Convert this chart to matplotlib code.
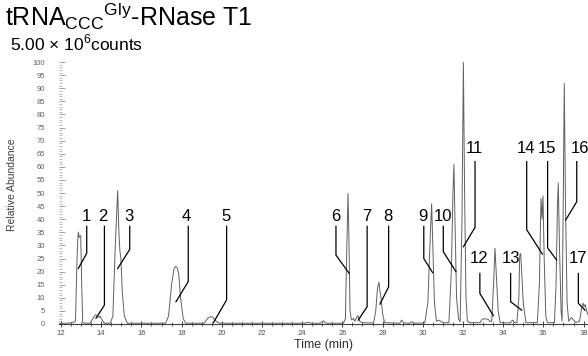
import matplotlib
matplotlib.use("Agg")
import matplotlib.pyplot as plt
from matplotlib.ticker import MultipleLocator

plt.rcParams['font.family'] = ['Liberation Sans', 'DejaVu Sans']
plt.rcParams['mathtext.fontset'] = 'custom'
plt.rcParams['mathtext.rm'] = 'Liberation Sans'

# Chromatogram trace (time in min, relative abundance)
time_min = [11.9, 12.3, 12.6, 12.72, 12.78, 12.82, 12.86, 12.91, 12.95, 12.98, 13.03, 13.08, 13.2,
            13.45, 13.62, 13.72, 13.8, 13.88, 13.95, 14.05, 14.15,
            14.45, 14.58, 14.7, 14.82, 14.88, 14.93, 14.98, 15.05, 15.15, 15.3,
            17.2, 17.35, 17.5, 17.62, 17.7, 17.78, 17.86, 17.95, 18.08, 18.2,
            19.12, 19.3, 19.45, 19.55, 19.65, 19.8, 19.95,
            24.15, 24.3, 24.45, 24.9, 25.05, 25.2,
            26.05, 26.15, 26.22, 26.28, 26.33, 26.38, 26.45, 26.55, 26.62, 26.7, 26.78, 26.86, 27.0,
            27.55, 27.66, 27.75, 27.82, 27.86, 27.92, 28.0, 28.1,
            28.85, 28.95, 29.05, 29.35, 29.45, 29.55,
            30.1, 30.25, 30.38, 30.44, 30.5, 30.58, 30.68, 30.8, 30.9, 31.0,
            31.3, 31.42, 31.5, 31.55, 31.6, 31.68, 31.78, 31.86,
            31.95, 32.02, 32.08, 32.15, 32.22, 32.35,
            32.85, 32.95, 33.1, 33.25, 33.35,
            33.43, 33.52, 33.59, 33.65, 33.75, 33.85,
            34.35, 34.47, 34.58, 34.68, 34.78, 34.82, 34.87, 34.92, 35.0, 35.13,
            35.7, 35.8, 35.88, 35.93, 35.98, 36.04, 36.12, 36.2,
            36.55, 36.63, 36.7, 36.74, 36.8, 36.88,
            36.93, 36.98, 37.04, 37.1, 37.18, 37.26, 37.4, 37.5, 37.62, 37.8,
            37.9, 37.97, 38.02, 38.08, 38.15, 38.25]
abundance = [0.2, 0.3, 0.5, 1.0, 20.0, 30.0, 35.2, 33.0, 33.5, 33.8, 15.0, 0.5, 0.3,
             0.3, 2.5, 3.5, 3.2, 2.4, 3.0, 1.5, 0.3,
             0.3, 3.0, 30.0, 51.0, 35.0, 28.0, 25.0, 12.0, 3.0, 0.3,
             0.3, 3.0, 15.0, 21.0, 22.0, 21.5, 19.0, 10.0, 2.0, 0.3,
             0.3, 2.2, 2.8, 2.6, 1.5, 0.5, 0.3,
             0.3, 0.7, 0.3, 0.3, 1.2, 0.3,
             0.3, 2.0, 30.0, 50.0, 30.0, 5.0, 1.5, 2.2, 1.0, 2.5, 3.2, 1.0, 0.5,
             0.4, 5.0, 14.0, 16.0, 13.0, 10.0, 4.0, 0.5,
             0.3, 1.5, 0.4, 0.3, 0.9, 0.3,
             0.4, 8.0, 35.0, 46.0, 30.0, 8.0, 1.0, 1.5, 1.0, 0.5,
             0.5, 20.0, 50.0, 61.0, 40.0, 10.0, 2.0, 0.8,
             40.0, 100.0, 50.0, 10.0, 1.0, 0.5,
             0.5, 1.8, 2.0, 1.8, 1.0,
             1.0, 15.0, 29.0, 20.0, 5.0, 0.5,
             0.4, 1.5, 0.5, 0.5, 10.0, 26.0, 27.0, 20.0, 8.0, 0.5,
             0.5, 15.0, 48.0, 40.0, 49.0, 25.0, 3.0, 0.5,
             0.5, 15.0, 45.0, 54.0, 30.0, 5.0,
             1.0, 40.0, 92.0, 45.0, 8.0, 1.0, 2.5, 1.5, 0.6, 1.0,
             6.0, 8.0, 6.5, 7.5, 5.0, 3.0]

# Peak labels: number, text x, text y, leader top y, bend y, target x, target y
peak_labels = ['1', '2', '3', '4', '5', '6', '7', '8', '9', '10',
               '11', '12', '13', '14', '15', '16', '17']
label_x = [13.24, 14.1, 15.38, 18.25, 20.21, 25.68, 27.2, 28.28, 30.03, 30.99,
           32.56, 32.81, 34.37, 35.13, 36.2, 37.82, 37.74]
label_y = [38.3, 38.3, 38.3, 38.3, 38.3, 38.3, 38.3, 38.3, 38.3, 38.3,
           64.2, 22.0, 22.0, 64.2, 64.2, 64.2, 22.0]
line_x = [13.28, 14.16, 15.42, 18.33, 20.24, 25.68, 27.23, 28.3, 30.05, 31.02,
          32.6, 32.84, 34.37, 35.17, 36.21, 37.66, 37.74]
line_top = [37.3, 37.3, 37.3, 37.3, 37.3, 37.3, 37.3, 37.3, 37.3, 37.3,
            62.0, 19.3, 19.3, 62.0, 62.0, 62.0, 19.3]
line_bend = [27.0, 7.2, 28.5, 16.2, 9.2, 26.3, 6.6, 14.2, 25.0, 27.6,
             36.9, 11.7, 8.5, 36.0, 29.1, 46.7, 7.9]
target_x = [12.86, 13.74, 14.82, 17.72, 19.58, 26.34, 26.79, 27.87, 30.49, 31.65,
            32.02, 33.51, 34.92, 35.95, 36.66, 37.11, 38.07]
target_y = [21.2, 2.2, 21.2, 8.5, 0.5, 19.3, 1.5, 7.6, 19.6, 20.0,
            29.5, 3.2, 5.3, 26.7, 24.4, 39.7, 5.3]

fig = plt.figure(figsize=(5.88, 3.56), dpi=100)
ax = fig.add_axes([59 / 588, 1 - 324 / 356, 529 / 588, (324 - 60) / 356])
ax.plot(time_min, abundance, color='#606060', lw=0.7, solid_joinstyle='miter')

for i, lab in enumerate(peak_labels):
    ax.plot([line_x[i], line_x[i], target_x[i]],
            [line_top[i], line_bend[i], target_y[i]],
            color='black', lw=0.9, clip_on=False)
    ax.text(label_x[i], label_y[i], lab, ha='center', va='bottom',
            fontsize=12, color='black', clip_on=False)

ax.set_xlim(11.9, 38.22)
ax.set_ylim(0, 100.8)
for s in ['top', 'right', 'left']:
    ax.spines[s].set_visible(False)
ax.spines['bottom'].set_color('#404040')
ax.spines['bottom'].set_linewidth(0.8)

ax.xaxis.set_major_locator(MultipleLocator(2))
ax.xaxis.set_minor_locator(MultipleLocator(0.5))
ax.yaxis.set_major_locator(MultipleLocator(5))
ax.yaxis.set_minor_locator(MultipleLocator(1))
ax.tick_params(axis='x', which='major', direction='inout', length=5, width=0.7,
               color='#404040', labelsize=5.5, labelcolor='#505050', pad=1.5)
ax.tick_params(axis='x', which='minor', direction='inout', length=3, width=0.6, color='#404040')
ax.tick_params(axis='y', which='major', direction='in', length=4, width=0.6,
               color='#909090', labelsize=5.5, labelcolor='#606060', pad=10)
ax.tick_params(axis='y', which='minor', direction='in', length=2.5, width=0.5, color='#a0a0a0')

ax.set_xlabel('Time (min)', fontsize=9, color='#303030', labelpad=2)
fig.text(12 / 588, 1 - 185 / 356, 'Relative Abundance', rotation=90, ha='center', va='center',
         fontsize=7.5, color='#404040')

fig.text(5 / 588, 1 - 25.5 / 356, r'tRNA$_{\mathregular{CCC}}{}^{\mathregular{Gly}}$-RNase T1',
         fontsize=18, ha='left', va='baseline', color='black')
fig.text(10 / 588, 1 - 50 / 356, r'5.00 × 10$^{\mathregular{6}}$counts',
         fontsize=12.5, ha='left', va='baseline', color='black')

fig.savefig('out.png', dpi=100)
